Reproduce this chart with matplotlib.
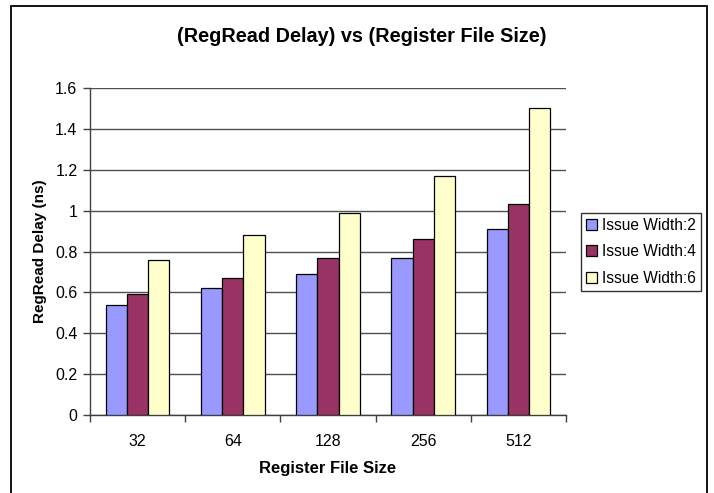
import numpy as np
import matplotlib.pyplot as plt
from matplotlib.patches import Rectangle

plt.rcParams['font.family'] = ['Liberation Sans', 'DejaVu Sans']

sizes = ['32', '64', '128', '256', '512']
widths = ['Issue Width:2', 'Issue Width:4', 'Issue Width:6']
delay_w2 = [0.54, 0.62, 0.69, 0.77, 0.91]
delay_w4 = [0.59, 0.67, 0.77, 0.86, 1.03]
delay_w6 = [0.76, 0.88, 0.99, 1.17, 1.50]
colors = ['#9999FF', '#993366', '#FFFFCC']

fig = plt.figure(figsize=(7.14, 4.93), dpi=100)
ax = fig.add_axes([0.126, 0.1582, 0.6667, 0.6633])

x = np.arange(len(sizes))
bw = 1 / 4.5
for i, (vals, lab) in enumerate(zip([delay_w2, delay_w4, delay_w6], widths)):
    ax.bar(x + (i - 1) * bw, vals, bw, color=colors[i], edgecolor='black',
           linewidth=0.9, label=lab, zorder=3)

ax.set_xlim(-0.5, len(sizes) - 0.5)
ax.set_ylim(0, 1.6)
ax.set_yticks(np.arange(0, 1.61, 0.2))
ax.set_yticklabels(['0', '0.2', '0.4', '0.6', '0.8', '1', '1.2', '1.4', '1.6'])
ax.yaxis.grid(True, color='#505050', linewidth=1, zorder=0)

# category labels centered, ticks on the group boundaries
ax.set_xticks(np.arange(-0.5, len(sizes)), minor=False)
ax.set_xticklabels([])
ax.set_xticks(x, minor=True)
ax.set_xticklabels(sizes, minor=True)
ax.tick_params(axis='x', which='major', length=5, width=1, color='#404040', direction='out')
ax.tick_params(axis='x', which='minor', length=0, pad=14, labelsize=11.5)
ax.tick_params(axis='y', length=5, width=1, color='#404040', direction='out', labelsize=11.5, pad=4)

for s in ['top', 'right']:
    ax.spines[s].set_visible(False)
for s in ['left', 'bottom']:
    ax.spines[s].set_color('#404040')
    ax.spines[s].set_linewidth(1)

ax.set_xlabel('Register File Size', fontsize=12, fontweight='bold', labelpad=8)
ax.set_ylabel('RegRead Delay (ns)', fontsize=11, fontweight='bold', labelpad=6)
fig.suptitle('(RegRead Delay) vs (Register File Size)', fontsize=14.3, fontweight='bold',
             x=0.507, y=1 - 37 / 493, va='center')

leg = fig.legend(loc='upper left', bbox_to_anchor=(580.7 / 714, 1 - 212.7 / 493),
                 bbox_transform=fig.transFigure, borderaxespad=0, fontsize=11.2,
                 frameon=True, fancybox=False, edgecolor='black',
                 handlelength=0.7, handleheight=0.7, handletextpad=0.35,
                 labelspacing=0.74, borderpad=0.32)
leg.get_frame().set_linewidth(1)

# chart area frame
fig.patches.append(Rectangle((10.7 / 714, -0.05), (706.7 - 10.7) / 714, 1.05 - 6 / 493,
                             transform=fig.transFigure, fill=False,
                             edgecolor='black', linewidth=1.3, clip_on=False))

fig.savefig('out.png', dpi=100)
